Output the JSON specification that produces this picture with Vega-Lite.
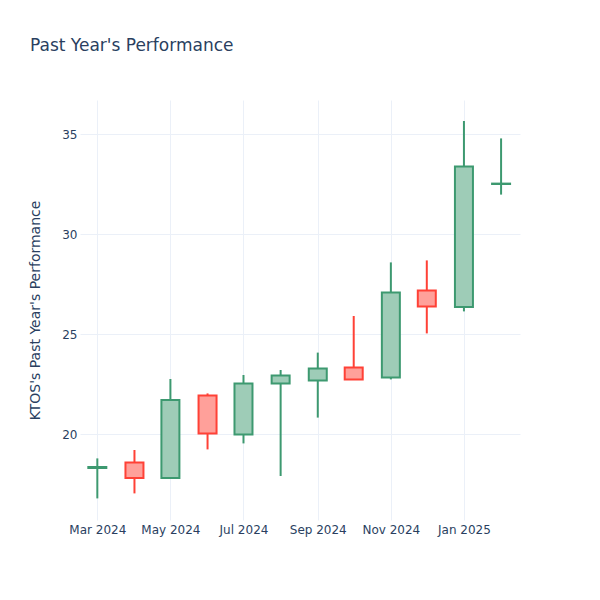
{
  "$schema": "https://vega.github.io/schema/vega-lite/v6.json",
  "autosize": {"type": "none"},
  "padding": {"left": 80, "top": 100, "right": 80, "bottom": 80},
  "width": 440,
  "height": 420,
  "background": "white",
  "config": {
    "view": {"stroke": null},
    "font": "DejaVu Sans"
  },
  "title": {
    "text": "Past Year's Performance",
    "anchor": "start",
    "frame": "group",
    "dx": -50,
    "offset": 32,
    "baseline": "alphabetic",
    "fontSize": 17,
    "fontWeight": "normal",
    "color": "#2a3f5f",
    "font": "DejaVu Sans"
  },
  "data": {
    "values": [
      {"date": "2024-03-01", "open": 18.3, "high": 18.78, "low": 16.78, "close": 18.35, "dir": "up"},
      {"date": "2024-04-01", "open": 18.57, "high": 19.2, "low": 17.03, "close": 17.8, "dir": "down"},
      {"date": "2024-05-01", "open": 17.8, "high": 22.75, "low": 17.78, "close": 21.7, "dir": "up"},
      {"date": "2024-06-01", "open": 21.92, "high": 22.03, "low": 19.23, "close": 20.02, "dir": "down"},
      {"date": "2024-07-01", "open": 19.97, "high": 22.95, "low": 19.53, "close": 22.52, "dir": "up"},
      {"date": "2024-08-01", "open": 22.52, "high": 23.2, "low": 17.9, "close": 22.93, "dir": "up"},
      {"date": "2024-09-01", "open": 22.67, "high": 24.07, "low": 20.82, "close": 23.28, "dir": "up"},
      {"date": "2024-10-01", "open": 23.32, "high": 25.9, "low": 22.7, "close": 22.72, "dir": "down"},
      {"date": "2024-11-01", "open": 22.82, "high": 28.58, "low": 22.73, "close": 27.07, "dir": "up"},
      {"date": "2024-12-01", "open": 27.17, "high": 28.68, "low": 25.03, "close": 26.37, "dir": "down"},
      {"date": "2025-01-01", "open": 26.35, "high": 35.65, "low": 26.13, "close": 33.37, "dir": "up"},
      {"date": "2025-02-01", "open": 32.5, "high": 34.78, "low": 31.97, "close": 32.52, "dir": "up"}
    ]
  },
  "encoding": {
    "x": {
      "field": "date",
      "type": "temporal",
      "scale": {
        "type": "utc",
        "padding": 0,
        "domain": [
          {"year": 2024, "month": 2, "date": 15, "hours": 13, "utc": true},
          {"year": 2025, "month": 2, "date": 16, "hours": 19, "utc": true}
        ]
      },
      "axis": {
        "title": null,
        "format": "%b %Y",
        "tickCount": {"interval": "month", "step": 2},
        "labelColor": "#2a3f5f",
        "labelFontSize": 12,
        "labelFont": "DejaVu Sans",
        "labelPadding": 4,
        "labelFlush": false,
        "labelOverlap": false,
        "ticks": false,
        "domain": false,
        "grid": true,
        "gridColor": "#EBF0F8",
        "gridWidth": 1
      }
    }
  },
  "layer": [
    {
      "mark": {"type": "rule", "strokeWidth": 2},
      "encoding": {
        "y": {
          "field": "low",
          "type": "quantitative",
          "scale": {"domain": [15.7, 36.7], "nice": false, "zero": false},
          "axis": {
            "title": "KTOS's Past Year's Performance",
            "values": [20, 25, 30, 35],
            "labelColor": "#2a3f5f",
            "labelFontSize": 12,
            "labelFont": "DejaVu Sans",
            "labelPadding": 3,
            "ticks": false,
            "domain": false,
            "grid": true,
            "gridColor": "#EBF0F8",
            "gridWidth": 1,
            "titleColor": "#2a3f5f",
            "titleFontSize": 14,
            "titleFontWeight": "normal",
            "titleFont": "DejaVu Sans",
            "titleX": -45,
            "titleY": 210,
            "titleAngle": -90,
            "titleAlign": "center",
            "titleBaseline": "middle"
          }
        },
        "y2": {"field": "high"},
        "stroke": {
          "field": "dir",
          "type": "nominal",
          "scale": {"domain": ["up", "down"], "range": ["#3D9970", "#FF4136"]},
          "legend": null
        }
      }
    },
    {
      "mark": {"type": "bar", "size": 18, "fill": "white"},
      "encoding": {
        "y": {"field": "open", "type": "quantitative"},
        "y2": {"field": "close"}
      }
    },
    {
      "mark": {"type": "bar", "size": 18, "fillOpacity": 0.5, "strokeWidth": 2},
      "encoding": {
        "y": {"field": "open", "type": "quantitative"},
        "y2": {"field": "close"},
        "fill": {
          "field": "dir",
          "type": "nominal",
          "scale": {"domain": ["up", "down"], "range": ["#3D9970", "#FF4136"]},
          "legend": null
        },
        "stroke": {
          "field": "dir",
          "type": "nominal",
          "scale": {"domain": ["up", "down"], "range": ["#3D9970", "#FF4136"]},
          "legend": null
        }
      }
    }
  ]
}
